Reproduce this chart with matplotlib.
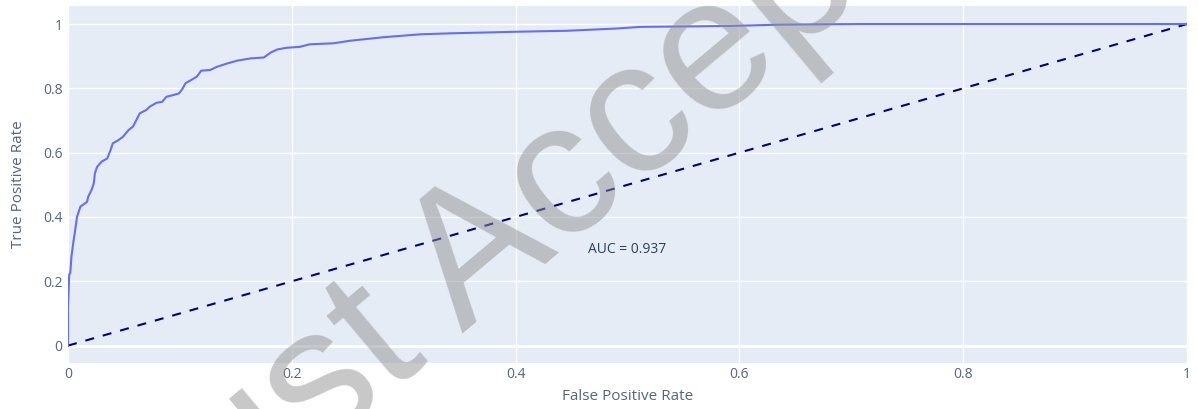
import matplotlib.pyplot as plt
from matplotlib.ticker import FuncFormatter

plt.rcParams['font.family'] = ['Open Sans', 'DejaVu Sans']
plt.rcParams['lines.scale_dashes'] = False

# ROC curve
fpr = [0, 0, 0.001, 0.002, 0.003, 0.005, 0.006, 0.008, 0.011, 0.017, 0.018,
       0.021, 0.023, 0.024, 0.026, 0.030, 0.035, 0.038, 0.040, 0.045, 0.049,
       0.054, 0.058, 0.061, 0.064, 0.070, 0.073, 0.079, 0.084, 0.088, 0.094,
       0.099, 0.102, 0.105, 0.109, 0.115, 0.119, 0.127, 0.133, 0.142, 0.151,
       0.163, 0.175, 0.181, 0.187, 0.195, 0.207, 0.216, 0.237, 0.252, 0.282,
       0.315, 0.341, 0.401, 0.446, 0.490, 0.511, 0.592, 0.636, 0.708, 1.0]
tpr = [0, 0.12, 0.22, 0.226, 0.276, 0.328, 0.35, 0.40, 0.432, 0.447, 0.463,
       0.484, 0.505, 0.536, 0.556, 0.572, 0.582, 0.608, 0.629, 0.639, 0.649,
       0.670, 0.681, 0.701, 0.722, 0.733, 0.743, 0.755, 0.758, 0.774, 0.779,
       0.784, 0.797, 0.816, 0.824, 0.836, 0.855, 0.857, 0.867, 0.877, 0.886,
       0.893, 0.896, 0.911, 0.921, 0.926, 0.929, 0.937, 0.940, 0.948, 0.959,
       0.968, 0.971, 0.976, 0.979, 0.986, 0.991, 0.994, 0.998, 1.0, 1.0]
diag = [0, 1]
auc = 0.937
ticks = [0, 0.2, 0.4, 0.6, 0.8, 1]

fig = plt.figure(figsize=(11.98, 4.09), dpi=100)
ax = fig.add_axes([0.0568, 0.1125, 0.934, 0.8728])
ax.set_facecolor('#e5ecf6')
for s in ax.spines.values():
    s.set_visible(False)

ax.plot(diag, diag, color='navy', lw=1.5, dashes=(6.5, 6.5), zorder=3)
ax.plot(fpr, tpr, color='#636efa', lw=1.5, zorder=4)

ax.set_xlim(0, 1)
ax.set_ylim(-0.054, 1.056)
ax.set_xticks(ticks)
ax.set_yticks(ticks)
fmt = FuncFormatter(lambda v, p: '%g' % v)
ax.xaxis.set_major_formatter(fmt)
ax.yaxis.set_major_formatter(fmt)
ax.grid(True, color='white', lw=1)
ax.set_axisbelow(True)
ax.axhline(0, color='white', lw=2, zorder=1)
ax.tick_params(length=0, labelsize=10, labelcolor='#506784', pad=3)
ax.tick_params(axis='y', pad=4)

ax.set_xlabel('False Positive Rate', fontsize=11, color='#506784', labelpad=5)
ax.set_ylabel('True Positive Rate', fontsize=11, color='#506784', labelpad=12)

ax.text(0.5, 0.3, 'AUC = %.3f' % auc, ha='center', va='center',
        fontsize=10, color='#2a3f5f', zorder=5)

# watermark
fig.text(0.136, -0.430, 'Just Accepted', fontsize=137, family='Liberation Sans',
         color='#919191', alpha=0.5, rotation=40, rotation_mode='anchor',
         ha='left', va='baseline', zorder=10)

fig.savefig('out.png', dpi=100)
